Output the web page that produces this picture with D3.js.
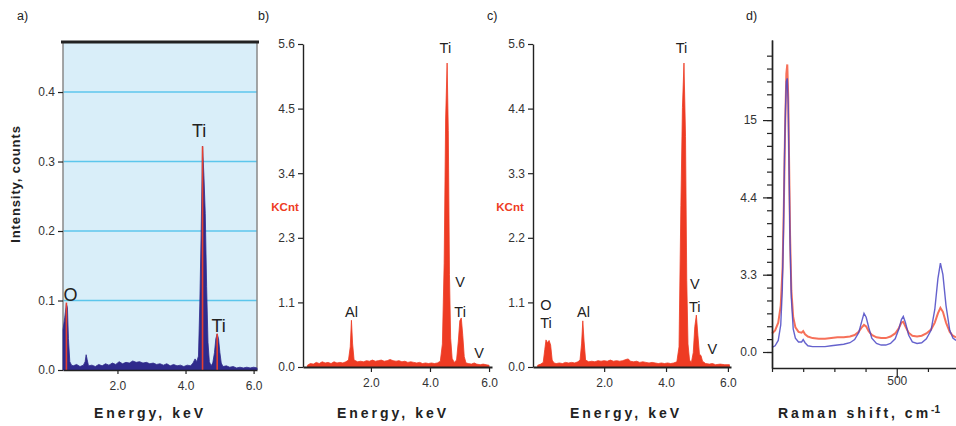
<!DOCTYPE html>
<html>
<head>
<meta charset="utf-8">
<script src="https://cdn.jsdelivr.net/npm/d3@7"></script>
<style>
  body { margin: 0; background: #fff; }
  svg { display: block; font-family: "Liberation Sans", Arial, sans-serif; }
  .tick text { fill: #333; font-size: 12px; }
</style>
</head>
<body>
<svg class="chart" width="956" height="426"></svg>
<script>
// ---- data ----
// a) EDX spectrum, energy (keV) vs intensity (counts)
var spectrumA = [[0.40,0.058],[0.45,0.075],[0.50,0.095],[0.53,0.090],[0.56,0.045],[0.60,0.012],[0.65,0.007],[0.70,0.006],[0.80,0.008],[0.90,0.005],[1.00,0.007],[1.05,0.012],[1.08,0.022],[1.11,0.015],[1.15,0.006],[1.25,0.007],[1.35,0.005],[1.45,0.008],[1.55,0.006],[1.65,0.009],[1.75,0.007],[1.85,0.010],[1.95,0.008],[2.05,0.012],[2.15,0.009],[2.25,0.011],[2.35,0.010],[2.45,0.013],[2.55,0.011],[2.65,0.012],[2.75,0.010],[2.85,0.011],[2.95,0.009],[3.05,0.010],[3.15,0.008],[3.25,0.009],[3.35,0.007],[3.45,0.009],[3.55,0.006],[3.65,0.008],[3.75,0.006],[3.85,0.007],[3.95,0.005],[4.05,0.007],[4.15,0.006],[4.22,0.010],[4.28,0.016],[4.33,0.012],[4.38,0.020],[4.42,0.095],[4.46,0.200],[4.50,0.322],[4.54,0.280],[4.58,0.225],[4.62,0.120],[4.66,0.040],[4.70,0.012],[4.75,0.006],[4.80,0.010],[4.85,0.025],[4.89,0.045],[4.93,0.052],[4.97,0.045],[5.01,0.025],[5.05,0.010],[5.10,0.005],[5.20,0.006],[5.30,0.004],[5.40,0.005],[5.50,0.003],[5.60,0.004],[5.70,0.003],[5.80,0.004],[5.90,0.003],[6.00,0.004],[6.10,0.003]];
var peaksA = [[0.50,0.097],[4.50,0.322],[4.93,0.052]];
var labelsA = [["O",0.62,0.1],["Ti",4.40,0.336],["Ti",4.97,0.055]];
var yTicksA = [0.0,0.1,0.2,0.3,0.4];
var yLabelsA = ["0.0","0.1","0.2","0.3","0.4"];

// b) EDX spectrum, KCnt
var spectrumB = [[-0.15,0.03],[-0.05,0.06],[0.05,0.05],[0.15,0.08],[0.25,0.06],[0.35,0.09],[0.45,0.07],[0.55,0.08],[0.65,0.06],[0.75,0.09],[0.85,0.07],[0.95,0.08],[1.05,0.07],[1.15,0.09],[1.24,0.12],[1.30,0.35],[1.34,0.81],[1.38,0.40],[1.43,0.12],[1.55,0.09],[1.65,0.10],[1.75,0.09],[1.85,0.11],[1.95,0.10],[2.05,0.12],[2.15,0.10],[2.25,0.11],[2.35,0.12],[2.45,0.10],[2.55,0.11],[2.65,0.13],[2.75,0.11],[2.85,0.10],[2.95,0.11],[3.05,0.09],[3.15,0.10],[3.25,0.08],[3.35,0.09],[3.45,0.08],[3.55,0.07],[3.65,0.08],[3.75,0.06],[3.85,0.07],[3.95,0.06],[4.05,0.07],[4.15,0.06],[4.25,0.07],[4.35,0.10],[4.42,0.40],[4.48,1.80],[4.53,4.30],[4.58,5.27],[4.62,4.10],[4.66,1.60],[4.70,0.50],[4.75,0.15],[4.82,0.08],[4.90,0.12],[4.96,0.45],[5.01,0.80],[5.06,0.85],[5.11,0.55],[5.16,0.18],[5.22,0.07],[5.30,0.06],[5.40,0.05],[5.50,0.07],[5.58,0.05],[5.70,0.04],[5.80,0.05],[5.90,0.04],[6.00,0.03]];
var labelsB = [["Ti",4.52,5.45],["Al",1.34,0.86],["V",5.02,1.38],["Ti",5.02,0.86],["V",5.66,0.16]];
var yTicksB = [0,1.12,2.24,3.36,4.48,5.6];
var yLabelsB = ["0.0","1.1","2.3","3.4","4.5","5.6"];

// c) EDX spectrum, KCnt
var spectrumC = [[-0.15,0.03],[-0.05,0.05],[0.03,0.08],[0.08,0.30],[0.12,0.47],[0.17,0.42],[0.22,0.46],[0.27,0.38],[0.32,0.12],[0.38,0.07],[0.45,0.06],[0.55,0.07],[0.65,0.06],[0.75,0.08],[0.85,0.07],[0.95,0.08],[1.05,0.07],[1.15,0.09],[1.22,0.12],[1.27,0.40],[1.31,0.80],[1.35,0.45],[1.40,0.12],[1.50,0.09],[1.60,0.10],[1.70,0.09],[1.80,0.11],[1.90,0.10],[2.00,0.11],[2.10,0.10],[2.20,0.12],[2.30,0.10],[2.40,0.11],[2.50,0.10],[2.60,0.11],[2.70,0.13],[2.78,0.14],[2.85,0.10],[2.95,0.09],[3.05,0.10],[3.15,0.08],[3.25,0.09],[3.35,0.08],[3.45,0.07],[3.55,0.08],[3.65,0.07],[3.75,0.06],[3.85,0.07],[3.95,0.06],[4.05,0.07],[4.15,0.06],[4.25,0.07],[4.35,0.09],[4.42,0.35],[4.48,2.80],[4.53,4.50],[4.58,5.27],[4.63,4.00],[4.67,1.50],[4.71,0.40],[4.76,0.12],[4.82,0.08],[4.88,0.25],[4.93,0.70],[4.98,0.90],[5.03,0.55],[5.08,0.22],[5.13,0.20],[5.18,0.10],[5.28,0.06],[5.40,0.05],[5.50,0.06],[5.60,0.04],[5.75,0.05],[5.90,0.04],[6.05,0.04]];
var labelsC = [["Ti",4.50,5.45],["O",0.12,0.98],["Ti",0.12,0.68],["Al",1.33,0.86],["V",4.93,1.35],["Ti",4.93,0.95],["V",5.50,0.22]];
var yTicksC = [0,1.12,2.24,3.36,4.48,5.6];
var yLabelsC = ["0.0","1.1","2.2","3.3","4.4","5.6"];
var xTicksE = [2,4,6];
var xLabelsE = ["2.0","4.0","6.0"];

// d) Raman spectra (two samples), shift (cm-1) vs intensity (axis units)
var ramanRed = [[100,0.24],[110,0.28],[120,0.38],[128,0.60],[134,1.10],[138,1.90],[142,2.90],[146,3.60],[149,3.72],[152,3.30],[155,2.40],[158,1.50],[162,0.80],[168,0.45],[175,0.32],[185,0.26],[195,0.25],[200,0.27],[206,0.23],[215,0.20],[230,0.18],[250,0.17],[270,0.17],[290,0.18],[310,0.19],[330,0.19],[350,0.20],[365,0.22],[378,0.26],[388,0.32],[395,0.35],[402,0.33],[410,0.27],[420,0.22],[435,0.19],[450,0.18],[465,0.18],[480,0.20],[495,0.24],[507,0.31],[515,0.38],[521,0.39],[528,0.33],[538,0.25],[550,0.21],[565,0.20],[580,0.21],[595,0.24],[610,0.29],[622,0.38],[632,0.50],[640,0.57],[648,0.52],[658,0.38],[670,0.26],[680,0.21],[690,0.19]];
var ramanBlue = [[100,0.06],[110,0.08],[120,0.15],[128,0.35],[133,0.80],[137,1.60],[140,2.50],[143,3.10],[146,3.50],[149,3.54],[152,3.20],[155,2.30],[158,1.40],[162,0.70],[168,0.30],[175,0.18],[185,0.13],[195,0.13],[200,0.16],[206,0.12],[215,0.08],[230,0.07],[250,0.07],[270,0.07],[290,0.08],[310,0.09],[330,0.10],[350,0.12],[365,0.16],[378,0.25],[388,0.40],[395,0.50],[402,0.45],[410,0.32],[420,0.18],[435,0.11],[450,0.09],[465,0.09],[480,0.11],[495,0.17],[507,0.30],[515,0.42],[521,0.46],[528,0.38],[538,0.22],[550,0.13],[565,0.11],[580,0.12],[595,0.17],[610,0.28],[622,0.55],[632,0.95],[640,1.15],[648,1.00],[658,0.60],[670,0.28],[680,0.18],[690,0.15]];
var yTicksD = [0,1,2,3];
var yLabelsD = ["0.0","3.3","4.4","15"];
var xTicksD = [100,200,300,400,500,600];
var xLabelsD = ["","","","","500",""];

var svg = d3.select(".chart");

function fmt(vals, labels) {
  return function(d) { return labels[vals.indexOf(d)]; };
}

function styleAxis(g, w) {
  g.select(".domain").attr("stroke", "#222").attr("stroke-width", w);
  g.selectAll(".tick line").attr("stroke", "#222").attr("stroke-width", 1.2);
}

function panelLetter(txt, x) {
  svg.append("text").attr("x", x).attr("y", 20).attr("font-size", 12.5).attr("fill", "#222").text(txt);
}

function xTitle(txt, cx) {
  return svg.append("text").attr("x", cx).attr("y", 418).attr("text-anchor", "middle")
    .attr("font-size", 14).attr("font-weight", "bold").attr("letter-spacing", 3)
    .attr("fill", "#222").text(txt);
}

function peakLabels(list, x, y, size) {
  svg.append("g").selectAll("text").data(list).enter().append("text")
    .attr("x", function(d){ return x(d[1]); })
    .attr("y", function(d){ return y(d[2]); })
    .attr("text-anchor", "middle")
    .attr("font-size", size)
    .attr("fill", "#222")
    .text(function(d){ return d[0]; });
}

// ---------- panel a ----------
var xA = d3.scaleLinear().domain([0.4, 6.1]).range([63, 257]);
var yA = d3.scaleLinear().domain([0, 0.472]).range([370, 42]);

svg.append("rect").attr("x", 63).attr("y", 42).attr("width", 194).attr("height", 328).attr("fill", "#d9eef9");
svg.append("g").selectAll("line").data(yTicksA.slice(1)).enter().append("line")
  .attr("x1", 63).attr("x2", 257)
  .attr("y1", function(d){ return yA(d); }).attr("y2", function(d){ return yA(d); })
  .attr("stroke", "#5cc6ec").attr("stroke-width", 1.6);
svg.append("line").attr("x1", 257).attr("x2", 257).attr("y1", 42).attr("y2", 370).attr("stroke", "#888").attr("stroke-width", 1.5);
svg.append("line").attr("x1", 63).attr("x2", 63).attr("y1", 42).attr("y2", 370).attr("stroke", "#888").attr("stroke-width", 1.5);

svg.append("path").datum(spectrumA)
  .attr("d", d3.area().x(function(d){ return xA(d[0]); }).y0(yA(0)).y1(function(d){ return yA(d[1]); }))
  .attr("fill", "#2f2a8c").attr("stroke", "#2f2a8c").attr("stroke-width", 0.8);
svg.append("g").selectAll("line").data(peaksA).enter().append("line")
  .attr("x1", function(d){ return xA(d[0]); }).attr("x2", function(d){ return xA(d[0]); })
  .attr("y1", yA(0)).attr("y2", function(d){ return yA(d[1]); })
  .attr("stroke", "#e8402e").attr("stroke-width", 1.6);

svg.append("line").attr("x1", 61).attr("x2", 259).attr("y1", 42).attr("y2", 42).attr("stroke", "#222").attr("stroke-width", 3);

var gA = svg.append("g").attr("transform", "translate(63,0)")
  .call(d3.axisLeft(yA).tickValues(yTicksA).tickFormat(fmt(yTicksA, yLabelsA)).tickSize(5).tickPadding(3));
styleAxis(gA, 0);
var gAx = svg.append("g").attr("transform", "translate(0,370)")
  .call(d3.axisBottom(xA).tickValues(xTicksE).tickFormat(fmt(xTicksE, xLabelsE)).tickSize(4).tickPadding(7).tickSizeOuter(0));
styleAxis(gAx, 1.6);

peakLabels(labelsA, xA, yA, 18);
svg.append("text").attr("transform", "translate(20,184) rotate(-90)").attr("text-anchor", "middle")
  .attr("font-size", 13).attr("font-weight", "bold").attr("letter-spacing", 0.9).attr("fill", "#222")
  .text("Intensity, counts");
panelLetter("a)", 17);
xTitle("Energy, keV", 150);

// ---------- panels b and c ----------
function edxPanel(data, x, y0, yTicks, yLabels, labels, kcX) {
  var y = d3.scaleLinear().domain([0, 5.6]).range([367, 44]);
  svg.append("path").datum(data)
    .attr("d", d3.area().x(function(d){ return x(d[0]); }).y0(y(0)).y1(function(d){ return y(d[1]); }))
    .attr("fill", "#ee3b23").attr("stroke", "#ee3b23").attr("stroke-width", 0.8);
  var gy = svg.append("g").attr("transform", "translate(" + x.range()[0] + ",0)")
    .call(d3.axisLeft(y).tickValues(yTicks).tickFormat(fmt(yTicks, yLabels)).tickSize(5).tickPadding(3).tickSizeOuter(0));
  styleAxis(gy, 1.4);
  var gx = svg.append("g").attr("transform", "translate(0,367)")
    .call(d3.axisBottom(x).tickValues(xTicksE).tickFormat(fmt(xTicksE, xLabelsE)).tickSize(5).tickPadding(6).tickSizeOuter(0));
  styleAxis(gx, 2.2);
  peakLabels(labels, x, y, 14.5);
  svg.append("text").attr("x", kcX).attr("y", 211).attr("text-anchor", "middle")
    .attr("font-size", 11.5).attr("font-weight", "bold").attr("fill", "#ee3b23").text("KCnt");
}

var xB = d3.scaleLinear().domain([-0.3, 6.1]).range([303, 492]);
edxPanel(spectrumB, xB, 0, yTicksB, yLabelsB, labelsB, 285);
panelLetter("b)", 258);
xTitle("Energy, keV", 393);

var xC = d3.scaleLinear().domain([-0.3, 6.1]).range([533, 731]);
edxPanel(spectrumC, xC, 0, yTicksC, yLabelsC, labelsC, 510);
panelLetter("c)", 487);
xTitle("Energy, keV", 626);

// ---------- panel d ----------
var xD = d3.scaleLinear().domain([100, 690]).range([772, 956]);
var yD = d3.scaleLinear().domain([-0.207, 4.036]).range([368, 40]);
var line = d3.line().x(function(d){ return xD(d[0]); }).y(function(d){ return yD(d[1]); });

svg.append("path").datum(ramanRed).attr("d", line)
  .attr("fill", "none").attr("stroke", "#f4573c").attr("stroke-opacity", 0.85).attr("stroke-width", 2);
svg.append("path").datum(ramanBlue).attr("d", line)
  .attr("fill", "none").attr("stroke", "#4a46c4").attr("stroke-opacity", 0.85).attr("stroke-width", 1.4);

var minorD = d3.range(0, 24).map(function(i){ return i / 6; });
var gDm = svg.append("g").attr("transform", "translate(772,0)")
  .call(d3.axisLeft(yD).tickValues(minorD).tickFormat("").tickSize(5).tickSizeOuter(0));
styleAxis(gDm, 1.4);
var gD = svg.append("g").attr("transform", "translate(772,0)")
  .call(d3.axisLeft(yD).tickValues(yTicksD).tickFormat(fmt(yTicksD, yLabelsD)).tickSize(9).tickPadding(6).tickSizeOuter(0));
styleAxis(gD, 1.4);
var gDx = svg.append("g").attr("transform", "translate(0,368)")
  .call(d3.axisBottom(xD).tickValues(xTicksD).tickFormat(fmt(xTicksD, xLabelsD)).tickSize(4).tickPadding(4).tickSizeOuter(0));
styleAxis(gDx, 1.6);
gDx.selectAll(".tick").filter(function(d){ return d === 500; }).select("line").attr("y2", 10);

panelLetter("d)", 746);
var tD = xTitle("Raman shift, cm", 859);
tD.append("tspan").attr("dy", -5).attr("font-size", 10).attr("letter-spacing", 0).text("-1");
</script>
</body>
</html>
